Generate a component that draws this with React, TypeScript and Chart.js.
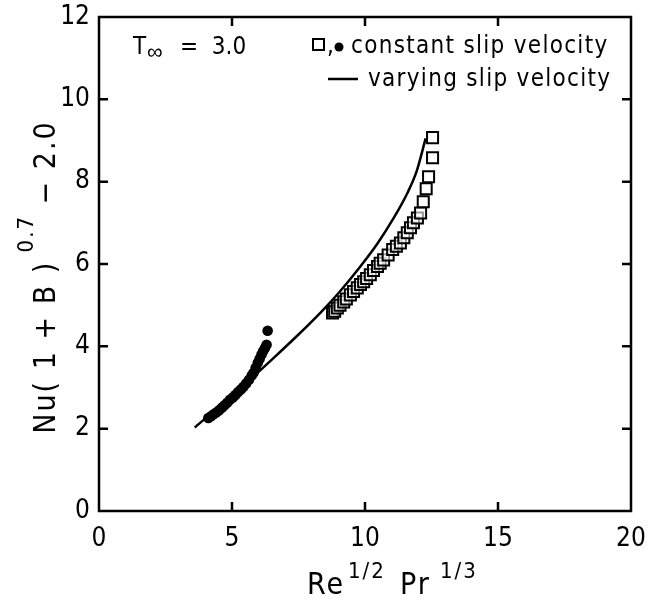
import React, { useEffect, useRef } from "react";
import { Chart, registerables } from "chart.js";

Chart.register(...registerables);

// ---- data ----
const X_TICKS = [0, 5, 10, 15, 20];
const Y_TICKS = [0, 2, 4, 6, 8, 10, 12];

// varying slip velocity (solid line)
const lineX = [3.6, 4.67, 5.69, 6.7, 7.52, 8.33, 9.04, 9.75, 10.47, 11.08, 11.59, 11.94, 12.28];
const lineY = [2.03, 2.62, 3.2, 3.8, 4.3, 4.82, 5.32, 5.88, 6.5, 7.12, 7.72, 8.25, 9.05];

// constant slip velocity (open squares)
const squareX = [8.78, 8.86, 8.96, 9.06, 9.2, 9.3, 9.45, 9.57, 9.71, 9.83, 9.95, 10.06, 10.2, 10.32, 10.47, 10.57, 10.7, 10.87, 11.04, 11.18, 11.33, 11.46, 11.59, 11.71, 11.82, 11.97, 12.09, 12.19, 12.3, 12.39, 12.54, 12.54];
const squareY = [4.81, 4.85, 4.93, 5.0, 5.08, 5.15, 5.25, 5.33, 5.42, 5.5, 5.57, 5.65, 5.74, 5.84, 5.94, 6.02, 6.1, 6.22, 6.35, 6.43, 6.51, 6.64, 6.76, 6.88, 7.0, 7.12, 7.24, 7.51, 7.83, 8.12, 8.58, 9.07];

// constant slip velocity (filled circles)
const dotX = [4.11, 4.21, 4.31, 4.42, 4.52, 4.62, 4.72, 4.82, 4.92, 5.03, 5.13, 5.23, 5.33, 5.43, 5.53, 5.64, 5.74, 5.81, 5.89, 5.97, 6.04, 6.11, 6.17, 6.24, 6.3, 6.34];
const dotY = [2.26, 2.3, 2.35, 2.4, 2.45, 2.51, 2.57, 2.63, 2.7, 2.76, 2.82, 2.89, 2.95, 3.02, 3.1, 3.19, 3.29, 3.36, 3.48, 3.6, 3.7, 3.8, 3.88, 3.96, 4.04, 4.38];

const FONT = "'Liberation Sans Narrow', 'DejaVu Sans Condensed', 'Liberation Sans', sans-serif";
const FONT_WIDE = "'Liberation Sans', 'DejaVu Sans', sans-serif";

const zip = (xs: number[], ys: number[]) => xs.map((x, i) => ({ x, y: ys[i] }));

const decorPlugin = {
  id: "decor",
  afterDraw(chart: any) {
    const { ctx, chartArea: a, scales } = chart;
    ctx.save();
    ctx.strokeStyle = "#000";
    ctx.fillStyle = "#000";
    ctx.lineWidth = 2.5;
    ctx.strokeRect(a.left, a.top, a.right - a.left, a.bottom - a.top);
    const tl = 9;
    ctx.beginPath();
    X_TICKS.slice(1, -1).forEach((v) => {
      const x = scales.x.getPixelForValue(v);
      ctx.moveTo(x, a.bottom);
      ctx.lineTo(x, a.bottom - tl);
      ctx.moveTo(x, a.top);
      ctx.lineTo(x, a.top + tl);
    });
    Y_TICKS.slice(1, -1).forEach((v) => {
      const y = scales.y.getPixelForValue(v);
      ctx.moveTo(a.left, y);
      ctx.lineTo(a.left + tl, y);
      ctx.moveTo(a.right, y);
      ctx.lineTo(a.right - tl, y);
    });
    ctx.stroke();

    // annotation T_inf = 3.0
    ctx.textBaseline = "alphabetic";
    ctx.textAlign = "left";
    ctx.font = `24px ${FONT}`;
    ctx.fillText("T", 133, 54);
    ctx.font = `22px ${FONT_WIDE}`;
    ctx.fillText("\u221E", 147, 59);
    ctx.font = `24px ${FONT}`;
    ctx.fillText("=  3.0", 180, 54);

    // legend
    ctx.lineWidth = 2;
    ctx.strokeRect(313, 39, 11, 11);
    ctx.fillText(",", 327, 53);
    ctx.beginPath();
    ctx.arc(339, 47, 4.5, 0, Math.PI * 2);
    ctx.fill();
    (ctx as any).letterSpacing = "1.3px";
    ctx.fillText("constant slip velocity", 351, 53);
    ctx.lineWidth = 2.5;
    ctx.beginPath();
    ctx.moveTo(328, 79);
    ctx.lineTo(358, 79);
    ctx.stroke();
    ctx.fillText("varying slip velocity", 368, 86);

    // x-axis title
    (ctx as any).letterSpacing = "2px";
    ctx.font = `30px ${FONT}`;
    ctx.fillText("Re", 307, 594);
    ctx.fillText("Pr", 400, 594);
    ctx.font = `22px ${FONT}`;
    ctx.fillText("1/2", 348, 578);
    ctx.fillText("1/3", 440, 578);

    // y-axis title (rotated)
    const yParts = [{ t: "Nu( 1 + B )" }, { t: " 0.7", sup: true }, { t: " \u2212 2.0" }];
    ctx.save();
    ctx.translate(55, 277);
    ctx.rotate(-Math.PI / 2);
    let total = 0;
    yParts.forEach((p) => {
      ctx.font = `${p.sup ? 22 : 30}px ${FONT}`;
      total += ctx.measureText(p.t).width;
    });
    let x = -total / 2;
    yParts.forEach((p) => {
      ctx.font = `${p.sup ? 22 : 30}px ${FONT}`;
      ctx.fillText(p.t, x, p.sup ? -22 : 0);
      x += ctx.measureText(p.t).width;
    });
    ctx.restore();

    ctx.restore();
  },
};

export default function App() {
  const ref = useRef<HTMLCanvasElement | null>(null);
  useEffect(() => {
    document.body.style.margin = "0";
    if (!ref.current) return;
    const chart = new Chart(ref.current, {
      type: "scatter",
      data: {
        datasets: [
          {
            type: "line",
            label: "varying slip velocity",
            data: zip(lineX, lineY),
            borderColor: "#000",
            borderWidth: 2.5,
            pointRadius: 0,
            fill: false,
            cubicInterpolationMode: "monotone",
          } as any,
          {
            label: "constant slip velocity (squares)",
            data: zip(squareX, squareY),
            pointStyle: "rect",
            pointRadius: 7.8,
            borderColor: "#000",
            borderWidth: 2,
            backgroundColor: "rgba(255,255,255,0.6)",
          },
          {
            label: "constant slip velocity (dots)",
            data: zip(dotX, dotY),
            pointStyle: "circle",
            pointRadius: 5.3,
            borderWidth: 0,
            backgroundColor: "#000",
          },
        ],
      },
      options: {
        animation: false,
        responsive: false,
        devicePixelRatio: 1,
        layout: { padding: { top: 17, right: 30, left: 0, bottom: 0 } },
        plugins: { legend: { display: false }, tooltip: { enabled: false } },
        scales: {
          x: {
            type: "linear",
            min: 0,
            max: 20,
            afterBuildTicks: (s: any) => {
              s.ticks = X_TICKS.map((v) => ({ value: v }));
            },
            afterFit: (s: any) => {
              s.height = 93;
              s.paddingLeft = 0;
              s.paddingRight = 0;
            },
            ticks: { color: "#000", padding: 13, maxRotation: 0, font: { family: FONT, size: 26 } },
            grid: { display: false, drawTicks: false },
            border: { display: false },
          },
          y: {
            type: "linear",
            min: 0,
            max: 12,
            afterBuildTicks: (s: any) => {
              s.ticks = Y_TICKS.map((v) => ({ value: v }));
            },
            afterFit: (s: any) => {
              s.width = 99;
              s.paddingTop = 0;
              s.paddingBottom = 0;
            },
            ticks: { color: "#000", padding: 9, font: { family: FONT, size: 26 } },
            grid: { display: false, drawTicks: false },
            border: { display: false },
          },
        },
      },
      plugins: [decorPlugin],
    });
    return () => chart.destroy();
  }, []);
  return (
    <div style={{ width: 661, height: 604, background: "#fff" }}>
      <canvas ref={ref} width={661} height={604} style={{ display: "block" }} />
    </div>
  );
}
